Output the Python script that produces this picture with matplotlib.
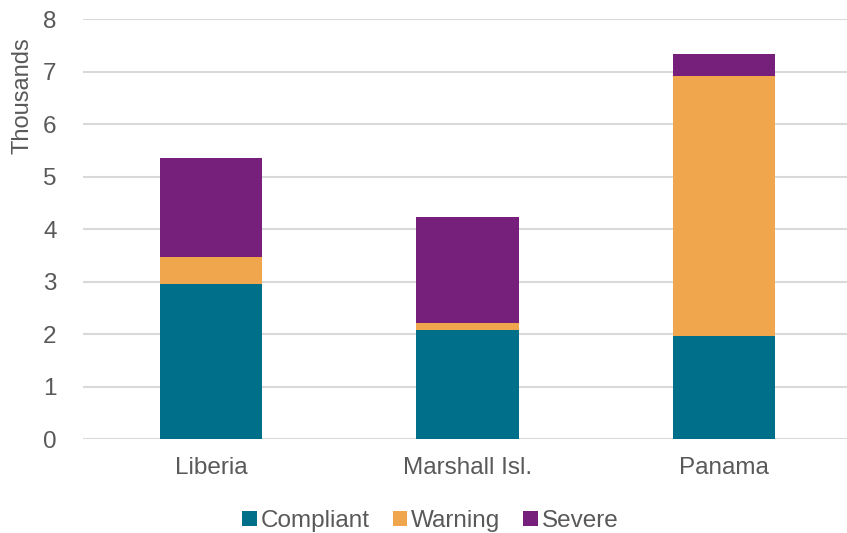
import matplotlib.pyplot as plt
import numpy as np

plt.rcParams['font.family'] = ['Liberation Sans', 'DejaVu Sans']

# values in thousands
flags = ['Liberia', 'Marshall Isl.', 'Panama']
compliant = [2.96, 2.08, 1.97]
warning = [0.51, 0.13, 4.94]
severe = [1.89, 2.02, 0.42]

colors = ['#006F8A', '#F0A64C', '#77207B']
grey = '#595959'

fig = plt.figure(figsize=(8.47, 5.33), dpi=100)
ax = fig.add_axes([0.098, 0.176, 0.902, 0.788])

x = np.arange(len(flags))
w = 0.4
bottom2 = np.array(compliant) + np.array(warning)
ax.bar(x, compliant, w, color=colors[0], label='Compliant', zorder=3)
ax.bar(x, warning, w, bottom=compliant, color=colors[1], label='Warning', zorder=3)
ax.bar(x, severe, w, bottom=bottom2, color=colors[2], label='Severe', zorder=3)

ax.set_xlim(-0.5, 2.48)
ax.set_ylim(0, 8)
ax.set_yticks(range(0, 9))
ax.set_xticks(x)
ax.set_xticklabels(flags)
ax.grid(axis='y', color='#d9d9d9', linewidth=1.5, zorder=0)
ax.tick_params(axis='both', length=0, labelsize=17.5, colors=grey)
ax.tick_params(axis='x', pad=13)
ax.tick_params(axis='y', pad=19)
for s in ax.spines.values():
    s.set_visible(False)

fig.text(0.026, 0.82, 'Thousands', rotation=90, ha='center', va='center',
         fontsize=17, color=grey)

leg = fig.legend(loc='center', bbox_to_anchor=(0.508, 0.022), ncol=3, frameon=False,
                 fontsize=17.5, handlelength=0.6, handleheight=0.6,
                 handletextpad=0.15, columnspacing=0.95)
for t in leg.get_texts():
    t.set_color(grey)

fig.savefig('out.png', dpi=100)
